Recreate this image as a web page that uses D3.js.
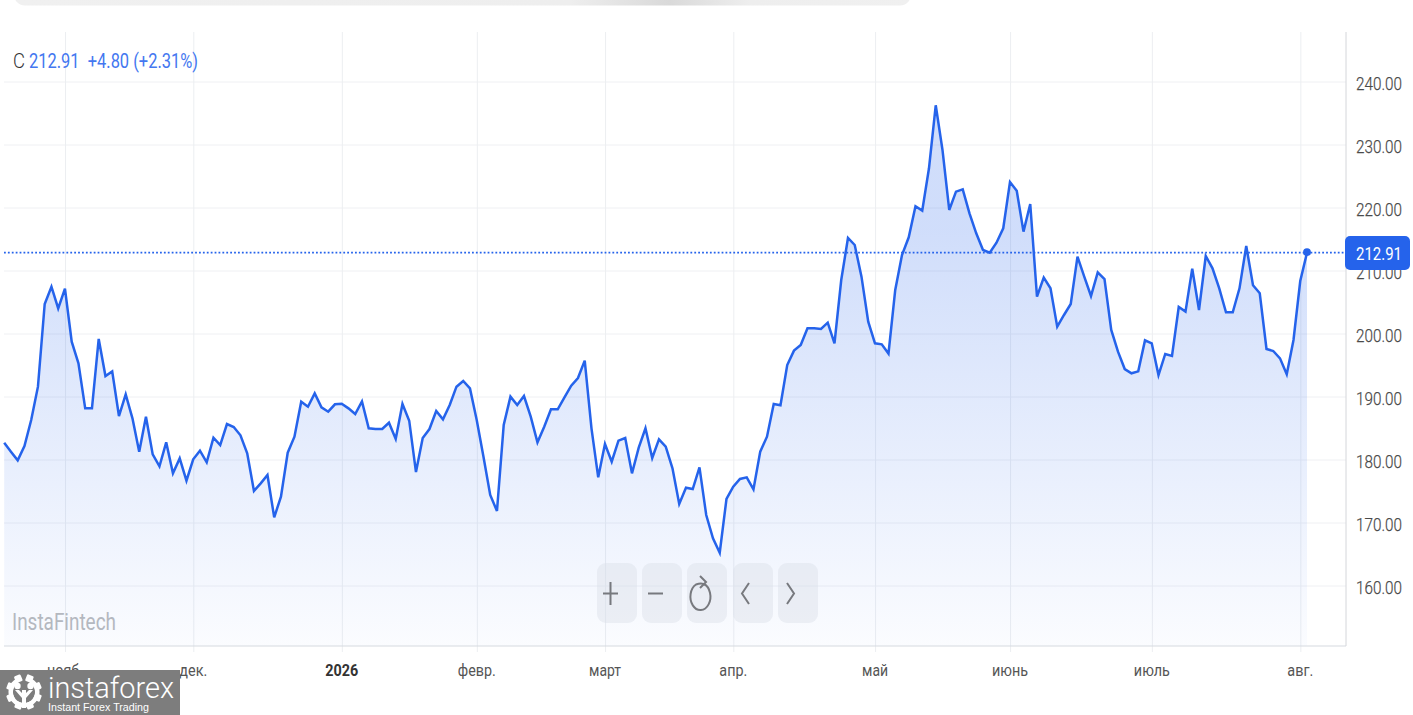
<!DOCTYPE html>
<html><head><meta charset="utf-8">
<script src="https://cdn.jsdelivr.net/npm/d3@7"></script>
<style>html,body{margin:0;padding:0;background:#fff;overflow:hidden}svg{display:block}text{font-family:Roboto,sans-serif}</style>
</head><body><svg id="c" width="1413" height="715"></svg>
<script>
const closeValues = [
182.75,181.32,179.95,182.22,186.35,191.64,204.76,207.51,204.07,207.2,
198.78,195.34,188.2,188.2,199.21,193.33,194.07,186.98,190.42,186.61,
181.32,186.88,180.9,178.99,182.8,177.88,180.26,176.72,180.11,181.48,
179.63,183.54,182.38,185.71,185.24,183.92,181.06,175.08,176.3,177.62,
170.9,174.18,181.16,183.7,189.26,188.46,190.58,188.36,187.67,188.84,
188.94,188.2,187.3,189.31,185.03,184.92,184.92,185.92,183.33,188.89,
186.24,178.09,183.49,184.92,187.78,186.45,188.73,191.64,192.54,191.37,
186.35,180.53,174.45,171.91,185.56,190.06,188.73,190.16,186.88,182.81,
185.29,188.05,188.05,189.95,191.8,193.02,195.77,185.03,177.25,182.54,
179.74,183.07,183.5,177.89,181.96,185.03,180.32,183.28,182.12,178.68,
173.02,175.61,175.4,178.84,171.27,167.57,165.29,173.81,175.77,176.99,
177.25,175.35,181.33,183.71,188.89,188.68,195.08,197.36,198.26,200.9,
200.9,200.8,201.8,198.52,208.57,215.24,214.13,209.1,201.96,198.52,
198.36,196.9,206.99,212.54,215.35,220.27,219.58,226.3,236.3,229.21,
219.69,222.6,222.97,219.16,215.98,213.34,212.91,214.5,216.78,224.13,
222.75,216.25,220.64,205.93,208.94,207.25,201.17,203.02,204.76,212.28,
209.1,206.03,209.79,208.73,200.64,197.2,194.44,193.76,194.07,198.99,
198.52,193.49,196.83,196.51,204.29,203.55,210.37,203.81,212.38,210.42,
207.25,203.44,203.44,207.25,213.97,207.73,206.46,197.62,197.3,196.14,
193.6,199.05,208.41,212.91];
const monthIndex = [9,28,50,70,89,108,129,149,170,192];
const monthLabels = ["нояб.","дек.","2026","февр.","март","апр.","май","июнь","июль","авг."];
const priceTicks = [160,170,180,190,200,210,220,230,240];
const lastPrice = 212.91;
const headerLabel = "C";
const headerValues = "212.91  +4.80 (+2.31%)";
const blue = "#2563eb";

const svg = d3.select("#c");
const x = d3.scaleLinear().domain([0, closeValues.length - 1]).range([4.2, 1307]);
const y = d3.scaleLinear().domain([150.48, 240]).range([646, 82]);
const xL = 4, xR = 1346, yT = 32, yB = 646;

const defs = svg.append("defs");
const g1 = defs.append("linearGradient").attr("id","fill").attr("gradientUnits","userSpaceOnUse")
  .attr("x1",0).attr("x2",0).attr("y1",230).attr("y2",yB);
g1.append("stop").attr("offset",0).attr("stop-color",blue).attr("stop-opacity",.215);
g1.append("stop").attr("offset",1).attr("stop-color",blue).attr("stop-opacity",.02);
const g2 = defs.append("linearGradient").attr("id","bar");
g2.append("stop").attr("offset",0).attr("stop-color","#f0f0f0");
g2.append("stop").attr("offset",.62).attr("stop-color","#eeeeee");
g2.append("stop").attr("offset",.73).attr("stop-color","#d9d9d9");
g2.append("stop").attr("offset",.82).attr("stop-color","#eeeeee");
g2.append("stop").attr("offset",1).attr("stop-color","#f0f0f0");

svg.append("rect").attr("x",14).attr("y",-20).attr("width",897).attr("height",25.5).attr("rx",11).attr("fill","url(#bar)");

svg.append("g").selectAll("line").data(priceTicks).join("line")
  .attr("x1",xL).attr("x2",xR).attr("y1",d=>y(d)).attr("y2",d=>y(d))
  .attr("stroke","#eff0f3").attr("stroke-width",1);
svg.append("g").selectAll("line").data(monthIndex).join("line")
  .attr("x1",d=>x(d)+.6).attr("x2",d=>x(d)+.6).attr("y1",yT).attr("y2",yB+6)
  .attr("stroke","#eceef1").attr("stroke-width",1);

const area = d3.area().x((d,i)=>x(i)).y0(yB).y1(d=>y(d));
const line = d3.line().x((d,i)=>x(i)).y(d=>y(d));
svg.append("path").datum(closeValues).attr("d",area).attr("fill","url(#fill)");
svg.append("path").datum(closeValues).attr("d",line).attr("fill","none").attr("stroke",blue)
  .attr("stroke-width",2.5).attr("stroke-linejoin","miter").attr("stroke-miterlimit",4);

svg.append("line").attr("x1",xL).attr("x2",xR).attr("y1",y(lastPrice)).attr("y2",y(lastPrice))
  .attr("stroke",blue).attr("stroke-width",1.6).attr("stroke-dasharray","1.8 2.1");
svg.append("circle").attr("cx",x(closeValues.length-1)).attr("cy",y(lastPrice)-.5).attr("r",3.9).attr("fill",blue);

svg.append("line").attr("x1",xL).attr("x2",xR).attr("y1",yB).attr("y2",yB).attr("stroke","#d6dae0").attr("stroke-width",1.2);
svg.append("line").attr("x1",xR).attr("x2",xR).attr("y1",yT).attr("y2",yB).attr("stroke","#d4d6da").attr("stroke-width",1);

const yAxis = d3.axisRight(y).tickValues(priceTicks).tickFormat(d3.format(".2f")).tickSize(0).tickPadding(0);
const yg = svg.append("g").attr("transform",`translate(1356,1.5)`).call(yAxis);
yg.select(".domain").remove();
yg.selectAll("text").attr("font-size",19).attr("font-weight",300).attr("fill","#4a4a4a")
  .attr("textLength",46).attr("lengthAdjust","spacingAndGlyphs").attr("stroke","#4a4a4a").attr("stroke-width",.25);

const xAxis = d3.axisBottom(x).tickValues(monthIndex)
  .tickFormat(d=>monthLabels[monthIndex.indexOf(d)]).tickSize(0).tickPadding(0);
const xg = svg.append("g").attr("transform",`translate(-.4,664)`).call(xAxis);
xg.select(".domain").remove();
xg.selectAll("text").attr("font-size",16.5).attr("font-weight",d=>d===50?700:400).attr("fill",d=>d===50?"#333":"#555")
  .attr("textLength",function(){const l=this.textContent;return l==="2026"?33:Math.round(this.getComputedTextLength()*.86);})
  .attr("lengthAdjust","spacingAndGlyphs");

svg.append("rect").attr("x",1345).attr("y",236).attr("width",65).attr("height",34).attr("rx",5).attr("fill",blue);
svg.append("text").attr("x",1356).attr("y",259.5).attr("font-size",19).attr("font-weight",400).attr("fill","#fff")
  .attr("textLength",46).attr("lengthAdjust","spacingAndGlyphs").text(lastPrice.toFixed(2));

svg.append("text").attr("x",13).attr("y",68).attr("font-size",20).attr("font-weight",300).attr("fill","#333")
  .attr("textLength",12).attr("lengthAdjust","spacingAndGlyphs").text(headerLabel);
svg.append("text").attr("x",29).attr("y",68).attr("font-size",20).attr("font-weight",400).attr("fill","#4377f0")
  .attr("xml:space","preserve").style("white-space","pre")
  .attr("textLength",169).attr("lengthAdjust","spacingAndGlyphs").text(headerValues);

svg.append("text").attr("x",12).attr("y",630).attr("font-size",23).attr("font-weight",400).attr("fill","#b4b8bf")
  .attr("textLength",104).attr("lengthAdjust","spacingAndGlyphs").text("InstaFintech");

const btnX = [597,642,687,733,778];
const btn = svg.append("g");
btn.selectAll("rect").data(btnX).join("rect").attr("x",d=>d).attr("y",563).attr("width",40).attr("height",60).attr("rx",9)
  .attr("fill","#d9dde6").attr("fill-opacity",.42);
const ic = btn.append("g").attr("fill","none").attr("stroke","#77797e").attr("stroke-width",2);
ic.append("path").attr("d","M603 593.5H618M610.5 582V605");
ic.append("path").attr("d","M648 593.5H663");
ic.append("path").attr("d","M704 584A10 13.5 0 1 1 696 584.5C700 583 703 583 705 585");
ic.append("path").attr("d","M700 576L706 582L700 588");
ic.append("path").attr("d","M749 583L742 593.5L749 604");
ic.append("path").attr("d","M787 583L794 593.5L787 604");

const logo = svg.append("g");
logo.append("rect").attr("x",0).attr("y",670).attr("width",180).attr("height",45).attr("fill","#7d7d7d");
const gear = logo.append("g").attr("transform","translate(24,692)").attr("fill","#fff");
d3.range(8).forEach(i=>gear.append("rect").attr("x",-3.5).attr("y",-18).attr("width",7).attr("height",7).attr("rx",1.2).attr("transform",`rotate(${i*45+22})`));
gear.append("path").attr("d",d3.arc()({innerRadius:11,outerRadius:15.5,startAngle:.5,endAngle:Math.PI*2-.5}));
gear.append("circle").attr("cx",-6.5).attr("cy",-6).attr("r",3.2);
gear.append("circle").attr("cx",6.5).attr("cy",-6).attr("r",3.2);
gear.append("rect").attr("x",-2).attr("y",-2).attr("width",4).attr("height",18);
gear.append("path").attr("d","M-9 -2L-5 -2L1 4L-2 6Z M9 -2L5 -2L-1 4L2 6Z");
logo.append("text").attr("x",48).attr("y",698).attr("font-size",30).attr("font-weight",300).attr("fill","#fff")
  .attr("textLength",126).attr("lengthAdjust","spacingAndGlyphs").text("instaforex");
logo.append("text").attr("x",48).attr("y",711).attr("font-size",11.5).attr("fill","#fff").style("font-family","'Liberation Sans',sans-serif")
  .attr("textLength",101).attr("lengthAdjust","spacingAndGlyphs").text("Instant Forex Trading");
</script></body></html>
